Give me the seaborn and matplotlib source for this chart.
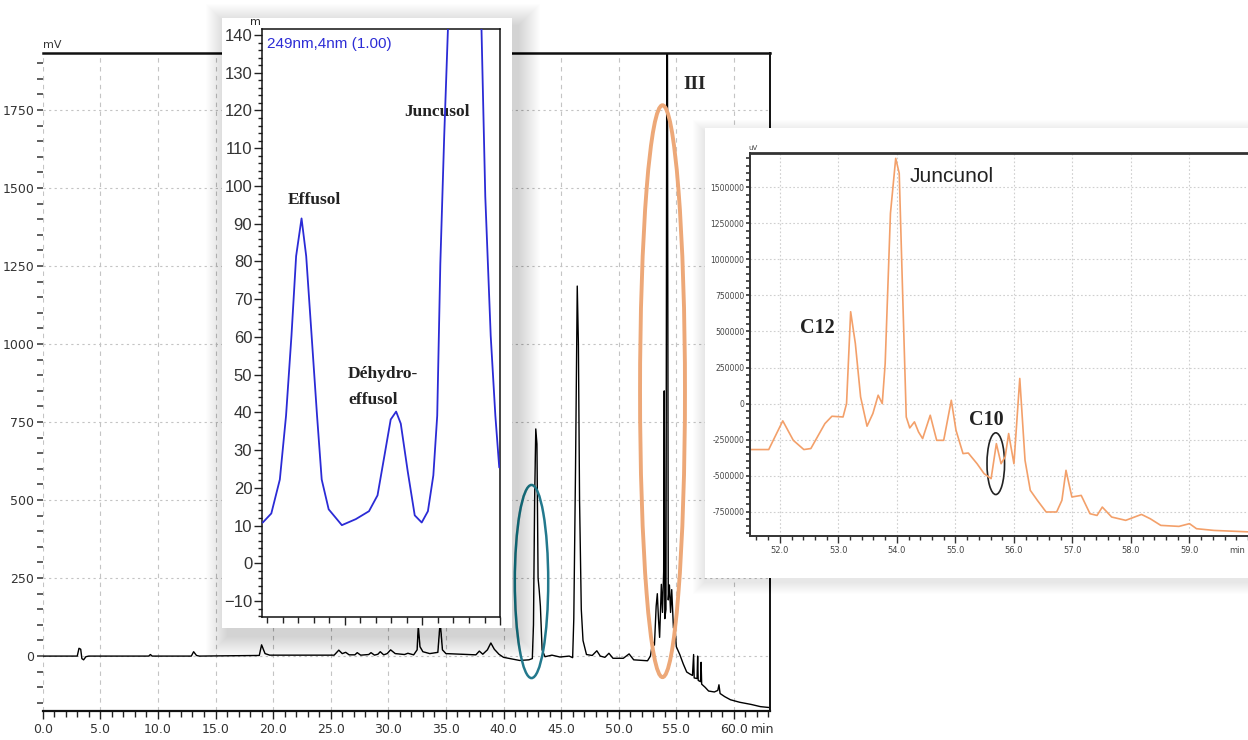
import matplotlib
matplotlib.use("Agg")
import matplotlib.pyplot as plt
from matplotlib.patches import Ellipse, Rectangle
from matplotlib.ticker import MultipleLocator
import seaborn as sns

# ---------------- data ----------------
# main chromatogram (min, mV)
main_time = [
    0.0, 3.0, 3.15, 3.3, 3.4, 3.55, 3.75, 4.0, 9.2, 9.35,
    9.5, 12.9, 13.1, 13.35, 13.6, 18.8, 19.0, 19.3, 19.7, 25.3,
    25.7, 26.0, 26.3, 26.6, 27.1, 27.3, 27.6, 28.3, 28.5, 28.8,
    29.1, 29.3, 29.6, 29.9, 30.2, 30.6, 31.4, 31.7, 32.2, 32.5,
    32.6, 32.75, 33.0, 33.6, 34.3, 34.5, 34.7, 35.0, 37.6, 37.9,
    38.2, 38.6, 38.9, 39.2, 39.6, 40.0, 41.4, 42.2, 42.5, 42.6,
    42.7, 42.8, 42.9, 43.0, 43.1, 43.2, 43.35, 43.6, 44.2, 44.9,
    45.7, 46.0, 46.1, 46.25, 46.4, 46.5, 46.6, 46.75, 46.9, 47.2,
    47.7, 48.1, 48.4, 48.8, 49.15, 49.5, 50.4, 50.9, 51.3, 52.5,
    52.75, 52.95, 53.1, 53.25, 53.35, 53.45, 53.55, 53.7, 53.8, 53.9,
    53.95, 54.0, 54.1, 54.2, 54.3, 54.4, 54.5, 54.6, 54.75, 54.85,
    55.0, 55.3, 55.6, 55.9, 56.2, 56.4, 56.5, 56.55, 56.8, 56.85,
    56.9, 57.1, 57.15, 57.2, 57.5, 57.8, 58.3, 58.6, 58.7, 58.8,
    59.2, 59.7, 60.5, 61.5, 62.3, 63.1,
]
main_mv = [
    0, 0, 25, 22, -8, -12, -2, 0, 0, 5,
    0, 0, 14, 2, 0, 2, 36, 8, 3, 3,
    19, 8, 12, 4, 4, 11, 3, 5, 11, 3,
    6, 14, 4, 8, 20, 8, 5, 9, 4, 20,
    95, 30, 14, 8, 12, 110, 20, 8, 4, 16,
    6, 20, 42, 22, 6, -4, -14, -12, -8, 100,
    500, 728, 680, 250, 210, 160, 20, -2, 3, -3,
    0, -5, 120, 600, 1186, 1000, 500, 150, 50, 5,
    2, 17, 0, -4, 9, -7, -7, 7, -12, -15,
    0, 45, 35, 160, 200, 120, 60, 230, 140, 270,
    850, 120, 150, 2700, 180, 228, 140, 213, 90, 110,
    30, 5, -25, -51, -58, -62, 5, -70, -72, 0,
    -78, -82, -20, -90, -100, -112, -115, -110, -92, -120,
    -130, -140, -148, -155, -162, -165,
]
main_xticks = [0, 5, 10, 15, 20, 25, 30, 35, 40, 45, 50, 55, 60]
main_xlabels = ['0.0', '5.0', '10.0', '15.0', '20.0', '25.0', '30.0',
                '35.0', '40.0', '45.0', '50.0', '55.0', '60.0']
main_yticks = [0, 250, 500, 750, 1000, 1250, 1500, 1750]
main_ylabels = ['0', '250', '500', '750', '1000', '1250', '1500', '1750']

# left inset, 249 nm trace
inset_time = [31.94, 32.05, 32.16, 32.24, 32.31, 32.37, 32.44, 32.50, 32.57, 32.64,
              32.70, 32.79, 32.96, 33.14, 33.31, 33.42, 33.51, 33.59, 33.66, 33.72,
              33.81, 33.90, 33.99, 34.07, 34.14, 34.19, 34.23, 34.28, 34.33, 34.55,
              34.76, 34.81, 34.88, 34.94, 34.99]
inset_signal = [10.8, 13.2, 22.2, 39.1, 60.3, 81.4, 91.4, 81.4, 60.3, 39.1,
                22.2, 14.3, 10.1, 11.7, 13.8, 18.0, 28.6, 38.1, 40.2, 37.0,
                24.3, 12.7, 10.8, 13.8, 23.3, 39.1, 79.3, 113.1, 142.6, 200,
                142.6, 97.2, 60.3, 39.1, 25.4]
inset_yticks = [-10, 0, 10, 20, 30, 40, 50, 60, 70, 80, 90, 100, 110, 120, 130, 140]

# right inset, zoom on 51.5-60 min (uV)
zoom_time = [51.47, 51.81, 52.05, 52.23, 52.41, 52.53, 52.77, 52.89, 53.08, 53.14,
             53.21, 53.29, 53.38, 53.49, 53.59, 53.68, 53.75, 53.80, 53.89, 53.98,
             54.04, 54.10, 54.16, 54.22, 54.30, 54.37, 54.44, 54.57, 54.68, 54.80,
             54.93, 55.01, 55.13, 55.22, 55.37, 55.49, 55.61, 55.70, 55.78, 55.85,
             55.91, 56.00, 56.10, 56.19, 56.28, 56.40, 56.55, 56.73, 56.82, 56.89,
             56.99, 57.15, 57.30, 57.42, 57.51, 57.67, 57.91, 58.18, 58.33, 58.51,
             58.82, 59.00, 59.12, 59.42, 60.07]
zoom_uv = [-319000, -319000, -120000, -255000, -319000, -312000, -139000, -88000, -93000, 0,
           637000, 417000, 46000, -157000, -69000, 58000, 0, 278000, 1319000, 1701000,
           1597000, 740000, -93000, -169000, -127000, -197000, -243000, -81000, -255000, -255000,
           23000, -185000, -347000, -343000, -417000, -486000, -521000, -278000, -417000, -370000,
           -208000, -417000, 174000, -394000, -602000, -671000, -752000, -752000, -671000, -463000,
           -648000, -637000, -764000, -776000, -718000, -787000, -810000, -769000, -799000, -845000,
           -852000, -833000, -868000, -880000, -891000]
zoom_xticks = [52, 53, 54, 55, 56, 57, 58, 59]
zoom_xlabels = ['52.0', '53.0', '54.0', '55.0', '56.0', '57.0', '58.0', '59.0']
zoom_yticks = [-750000, -500000, -250000, 0, 250000, 500000, 750000, 1000000, 1250000, 1500000]
zoom_ylabels = ['-750000', '-500000', '-250000', '0', '250000', '500000',
                '750000', '1000000', '1250000', '1500000']

# ---------------- figure ----------------
sns.set_theme(style="white")
W, H = 1248, 740
fig = plt.figure(figsize=(12.48, 7.4), dpi=100)
serif = ['Liberation Serif', 'DejaVu Serif']
sans = ['Liberation Sans', 'DejaVu Sans']


def shadow(x0, y0, x1, y1, dx, dy, blur, alpha):
    # soft drop shadow behind an inset panel (pixel box)
    for i in range(blur):
        g = blur - i
        fig.add_artist(Rectangle(((x0 + dx - g) / W, 1 - (y1 + dy + g) / H),
                                 (x1 - x0 + 2 * g) / W, (y1 - y0 + 2 * g) / H,
                                 transform=fig.transFigure, facecolor='black',
                                 edgecolor='none', alpha=alpha, zorder=1))


def panel(x0, y0, x1, y1):
    fig.add_artist(Rectangle((x0 / W, 1 - y1 / H), (x1 - x0) / W, (y1 - y0) / H,
                             transform=fig.transFigure, facecolor='white',
                             edgecolor='none', zorder=2))


# main chromatogram
ax = fig.add_axes([0.03421, 0.03919, 0.58277, 0.88919])
ax.set_zorder(0)
sns.lineplot(x=main_time, y=main_mv, ax=ax, color='black', linewidth=1.0,
             estimator=None, sort=False)
ax.set_xlim(0, 63.13)
ax.set_ylim(-176, 1933)
ax.set_xticks(main_xticks)
ax.set_xticklabels(main_xlabels)
ax.set_yticks(main_yticks)
ax.set_yticklabels(main_ylabels)
ax.xaxis.set_minor_locator(MultipleLocator(1))
ax.yaxis.set_minor_locator(MultipleLocator(50))
ax.tick_params(axis='x', which='major', direction='out', length=6, width=1,
               color='#222222', labelsize=9, labelcolor='#333333', pad=3, bottom=True)
ax.tick_params(axis='x', which='minor', direction='out', length=4, width=1,
               color='#222222', bottom=True)
ax.tick_params(axis='y', which='both', direction='out', length=4, width=1.2,
               color='#444444', labelsize=9, labelcolor='#333333', pad=2, left=True)
ax.grid(axis='x', which='major', linestyle=(0, (4, 4)), color='#c4c4c4', linewidth=0.8)
ax.grid(axis='y', which='major', linestyle=(0, (2, 3)), color='#c4c4c4', linewidth=0.8)
ax.spines['left'].set_visible(False)
ax.spines['top'].set_linewidth(1.8)
ax.spines['top'].set_color('#111111')
ax.spines['right'].set_linewidth(1.4)
ax.spines['right'].set_color('#111111')
ax.spines['bottom'].set_linewidth(1.6)
ax.spines['bottom'].set_color('#111111')
ax.text(0, 1.004, 'mV', transform=ax.transAxes, fontsize=8, ha='left', va='bottom',
        color='#333333')
ax.annotate('min', xy=(62.5, 0), xycoords=('data', 'axes fraction'), xytext=(0, -9),
            textcoords='offset points', ha='center', va='top', fontsize=9, color='#333333')
ax.text(55.6, 1833, 'III', family=serif, fontweight='bold', fontsize=14, va='center')
ax.add_patch(Ellipse((53.8, 849), 3.9, 1833, fill=False, edgecolor='#eda878',
                     linewidth=2.8, zorder=5))
ax.add_patch(Ellipse((42.43, 239), 2.9, 619, fill=False, edgecolor='#23798d',
                     linewidth=1.8, zorder=5))

# left inset panel
shadow(222, 18, 512, 628, 6, 8, 22, 0.009)
panel(222, 18, 512, 628)
ax2 = fig.add_axes([0.20994, 0.16622, 0.19071, 0.79459])
ax2.set_zorder(3)
sns.lineplot(x=inset_time, y=inset_signal, ax=ax2, color='#2b2bd6', linewidth=1.3,
             estimator=None, sort=False, zorder=4)
ax2.set_xlim(31.93, 35.0)
ax2.set_ylim(-14.24, 141.6)
ax2.set_yticks(inset_yticks)
ax2.yaxis.set_minor_locator(MultipleLocator(2))
ax2.set_xticks([33, 34, 35])
ax2.xaxis.set_minor_locator(MultipleLocator(0.2))
ax2.tick_params(axis='y', which='major', direction='out', length=6, width=1,
                color='#222222', labelsize=12, labelcolor='#333333', pad=1, left=True)
ax2.tick_params(axis='y', which='minor', direction='out', length=3, width=1,
                color='#222222', left=True)
ax2.tick_params(axis='x', which='major', direction='out', length=6, width=1,
                color='#222222', labelbottom=False, bottom=True)
ax2.tick_params(axis='x', which='minor', direction='out', length=4, width=1,
                color='#222222', bottom=True)
for lab in ax2.get_yticklabels():
    lab.set_family(sans)
for s in ax2.spines.values():
    s.set_color('#111111')
    s.set_linewidth(1.1)
ax2.text(32.0, 137.6, '249nm,4nm (1.00)', color='#2d2dd6', fontsize=11, family=sans,
         va='center', ha='left')
ax2.text(-0.005, 1.003, 'm', transform=ax2.transAxes, fontsize=8, ha='right', va='bottom')
ax2.text(32.61, 96.2, 'Effusol', family=serif, fontweight='bold', fontsize=12.5,
         ha='center', va='center', color='#222222', zorder=2)
ax2.text(33.04, 50.2, 'Déhydro-', family=serif, fontweight='bold', fontsize=12.5,
         ha='left', va='center', color='#222222', zorder=2)
ax2.text(33.04, 43.3, 'effusol', family=serif, fontweight='bold', fontsize=12.5,
         ha='left', va='center', color='#222222', zorder=2)
ax2.text(33.77, 119.7, 'Juncusol', family=serif, fontweight='bold', fontsize=12.5,
         ha='left', va='center', color='#222222', zorder=2)

# right inset panel
shadow(705, 128, 1248, 578, 0, 4, 12, 0.008)
panel(705, 128, 1248, 578)
ax3 = fig.add_axes([0.60096, 0.27568, 0.39904, 0.51757])
ax3.set_zorder(3)
sns.lineplot(x=zoom_time, y=zoom_uv, ax=ax3, color='#f3a06a', linewidth=1.2,
             estimator=None, sort=False)
ax3.set_xlim(51.49, 60.0)
ax3.set_ylim(-918600, 1738000)
ax3.set_xticks(zoom_xticks)
ax3.set_xticklabels(zoom_xlabels)
ax3.set_yticks(zoom_yticks)
ax3.set_yticklabels(zoom_ylabels)
ax3.xaxis.set_minor_locator(MultipleLocator(0.2))
ax3.yaxis.set_minor_locator(MultipleLocator(50000))
ax3.tick_params(axis='x', which='major', direction='out', length=5, width=1,
                color='#333333', labelsize=6, labelcolor='#444444', pad=2, bottom=True)
ax3.tick_params(axis='x', which='minor', direction='out', length=3, width=1,
                color='#333333', bottom=True)
ax3.tick_params(axis='y', which='both', direction='out', length=3, width=1.2,
                color='#333333', labelsize=5.5, labelcolor='#444444', pad=1, left=True)
ax3.grid(axis='both', which='major', linestyle=(0, (1.5, 2)), color='#cfcfcf',
         linewidth=0.8)
ax3.spines['right'].set_visible(False)
ax3.spines['top'].set_linewidth(2)
ax3.spines['top'].set_color('#333333')
ax3.spines['left'].set_color('#333333')
ax3.spines['left'].set_linewidth(1.4)
ax3.spines['bottom'].set_color('#333333')
ax3.spines['bottom'].set_linewidth(1.4)
ax3.text(-0.004, 1.004, 'uV', transform=ax3.transAxes, fontsize=5, ha='left',
         va='bottom', color='#444444')
ax3.annotate('min', xy=(1.0, 0), xycoords='axes fraction', xytext=(-2, -7),
             textcoords='offset points', ha='right', va='top', fontsize=6,
             color='#444444')
ax3.text(54.22, 1574000, 'Juncunol', family=sans, fontsize=15, ha='left',
         va='center', color='#222222')
ax3.text(52.35, 521000, 'C12', family=serif, fontweight='bold', fontsize=14.5,
         ha='left', va='center', color='#222222')
ax3.text(55.23, -116000, 'C10', family=serif, fontweight='bold', fontsize=14.5,
         ha='left', va='center', color='#222222')
ax3.add_patch(Ellipse((55.69, -417000), 0.30, 428000, fill=False,
                      edgecolor='#222222', linewidth=1.2))

fig.savefig('out.png', dpi=100)
